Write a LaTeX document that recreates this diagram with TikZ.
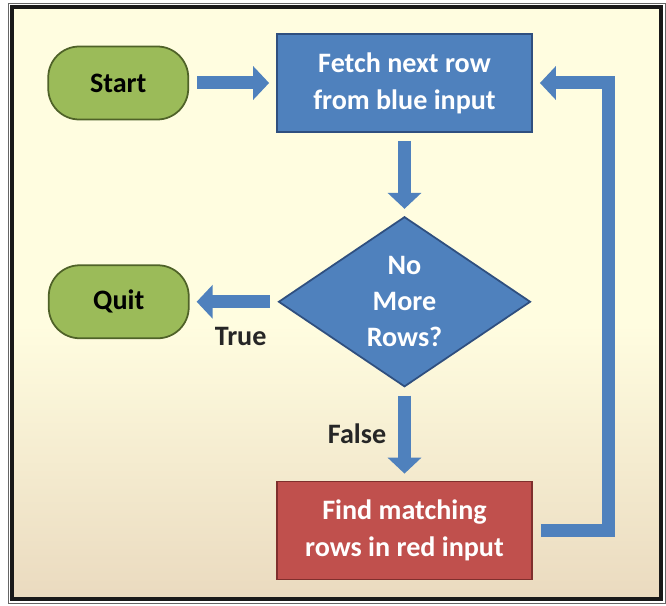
\documentclass[tikz,border=0pt]{standalone}
\usepackage{fontspec}
\setmainfont{Carlito}
\usetikzlibrary{arrows.meta, positioning, shapes.geometric}

\definecolor{bluefill}{HTML}{4F81BD}
\definecolor{bluedraw}{HTML}{2F4F7F}
\definecolor{redfill}{HTML}{C0504D}
\definecolor{reddraw}{HTML}{7F2F2D}
\definecolor{greenfill}{HTML}{9BBB59}
\definecolor{greendraw}{HTML}{4F6228}
\definecolor{creambg}{HTML}{FFFDE0}
\definecolor{tanbg}{HTML}{EADABF}

\begin{document}
\begin{tikzpicture}[
  process/.style={rectangle, draw=bluedraw, line width=1pt, fill=bluefill, text=white,
    minimum width=5.1cm, minimum height=1.96cm, align=center,
    font=\fontsize{16}{21}\selectfont\bfseries},
  decision/.style={diamond, draw=bluedraw, line width=1pt, fill=bluefill, text=white,
    aspect=1.48, inner sep=0pt, minimum width=5.04cm, minimum height=3.4cm, align=center,
    font=\fontsize{16}{20.5}\selectfont\bfseries},
  terminal/.style={rectangle, rounded corners=0.62cm, draw=greendraw, line width=1pt,
    fill=greenfill, minimum width=2.8cm, minimum height=1.46cm,
    font=\fontsize{16}{21}\selectfont\bfseries},
  lbl/.style={text=black!85, font=\fontsize{16}{21}\selectfont\bfseries},
  flow/.style={-{Triangle[width=0.66cm, length=0.32cm]}, line width=0.26cm, bluefill,
    shorten <=4.5pt, shorten >=4pt}
]
\useasboundingbox (0,0) rectangle (13.32,-12.1);
% frame and background
\fill[creambg] (0.22,-0.12) rectangle (13.24,-6.5);
\shade[top color=creambg, bottom color=tanbg] (0.22,-6.49) rectangle (13.24,-12.0);
\draw[black!60, line width=0.4pt] (0.16,-0.06) rectangle (13.30,-12.06);
\draw[black!90, line width=2pt] (0.24,-0.14) rectangle (13.22,-11.98);

\node[process] (fetch) at (8.09,-1.66) {Fetch next row\\from blue input};
\node[decision, below=1.66cm of fetch] (cond) {No\\More\\Rows?};
\node[process, fill=redfill, draw=reddraw, below=1.86cm of cond] (find) {Find matching\\rows in red input};
\node[terminal, left=1.74cm of fetch] (start) {Start};
\node[terminal, left=1.76cm of cond] (quit) {Quit};

\coordinate[right=1.52cm of find.east] (back);

\draw[flow] (start) -- (fetch);
\draw[flow] (fetch) -- (cond);
\draw[flow] (cond) -- node[lbl, below=0.26cm, xshift=0.14cm] (truelbl) {True} (quit);
\draw[flow] (cond) -- node[lbl, left=0.12cm] (falselbl) {False} (find);
\draw[flow, rounded corners=0pt] (find.east) -- (back) |- (fetch.east);
\end{tikzpicture}
\end{document}
